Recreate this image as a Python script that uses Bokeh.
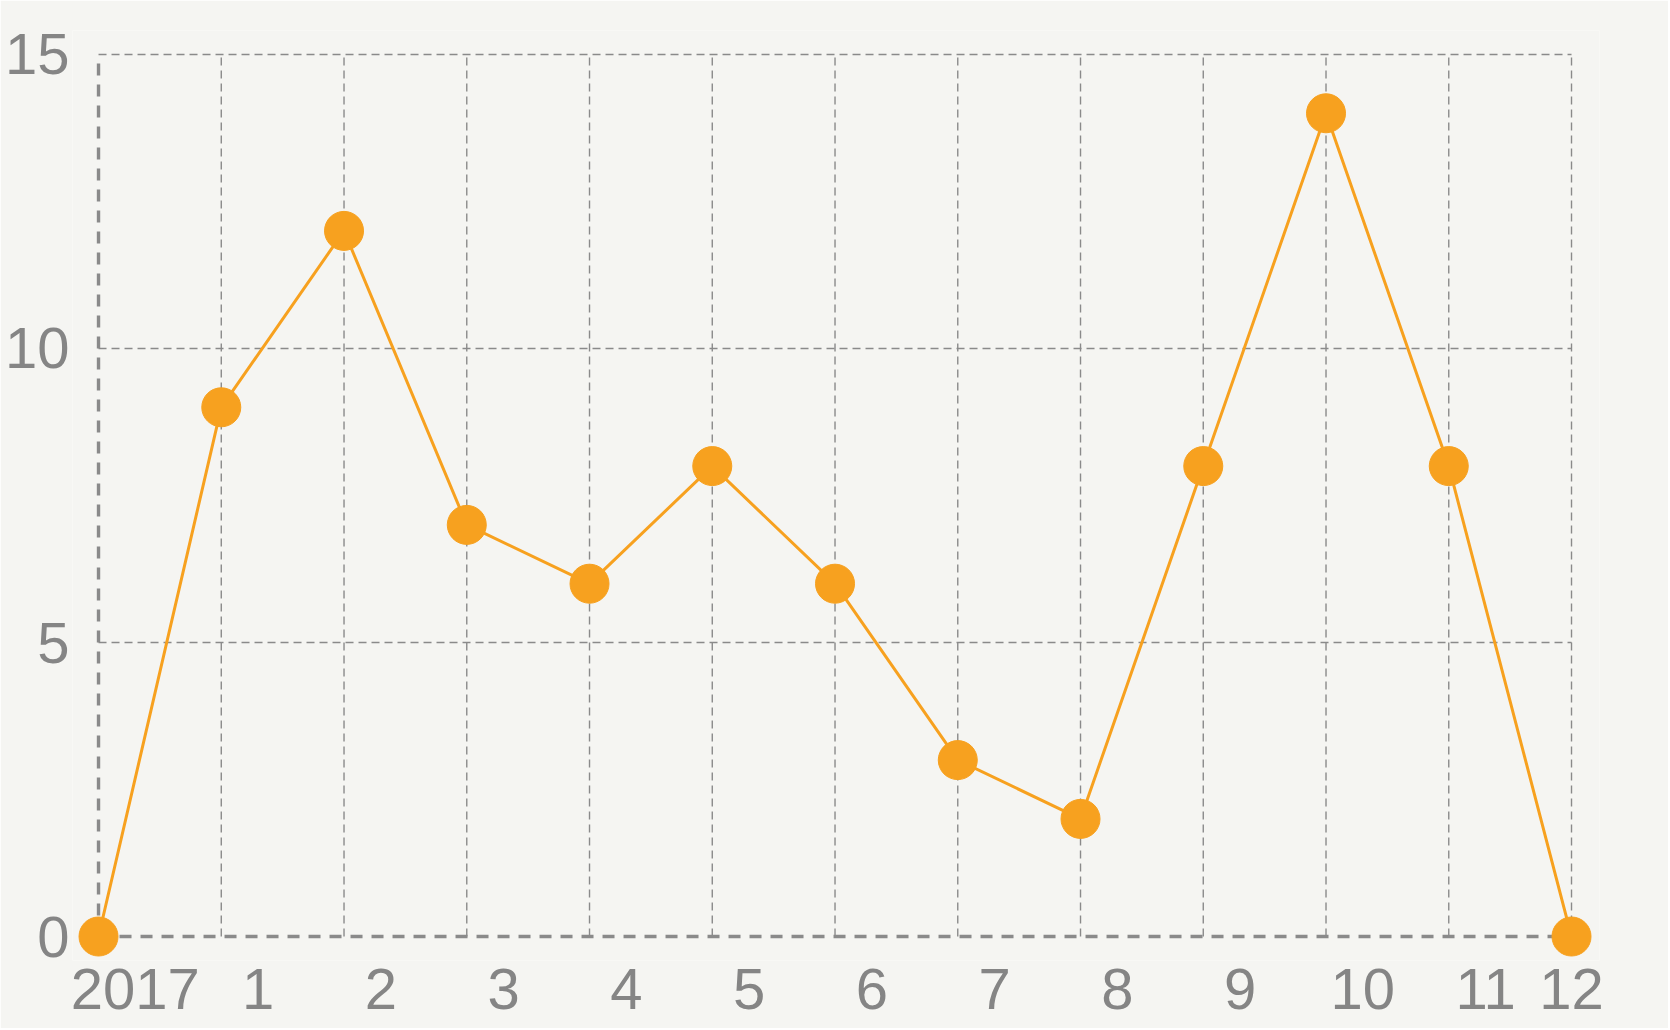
from bokeh.plotting import figure
from bokeh.models import FixedTicker, Range1d, ColumnDataSource
from bokeh.embed import file_html
from bokeh.resources import INLINE

# ---- data ----
months = [0, 1, 2, 3, 4, 5, 6, 7, 8, 9, 10, 11, 12]
values = [0, 9, 12, 7, 6, 8, 6, 3, 2, 8, 14, 8, 0]
x_labels = ["2017", "1", "2", "3", "4", "5", "6", "7", "8", "9", "10", "11", "12"]
y_ticks = [0, 5, 10, 15]

BG = "#f5f5f2"
GRID = "#8a8a8a"
TEXT = "#858585"
ORANGE = "#f7a11f"
FONT = "Liberation Sans"

p = figure(width=1668, height=1028, output_backend="svg", toolbar_location=None,
           x_range=Range1d(-0.212, 12.228), y_range=Range1d(-0.408, 15.408),
           min_border_left=72, min_border_right=69, min_border_top=30, min_border_bottom=68)
p.background_fill_color = BG
p.border_fill_color = BG
p.outline_line_color = None
p.xgrid.visible = False
p.ygrid.visible = False

x_max = months[-1]
y_max = y_ticks[-1]
gx = months[1:]
gy = y_ticks[1:]

# grid lines (axes drawn separately at 0)
p.segment(x0=gx, x1=gx, y0=[0] * len(gx), y1=[y_max] * len(gx),
          line_color=GRID, line_width=1.4, line_dash="8 5")
p.segment(x0=[0] * len(gy), x1=[x_max] * len(gy), y0=gy, y1=gy,
          line_color=GRID, line_width=1.4, line_dash="8 5")
# axis lines (thicker dashed)
p.segment(x0=[0], x1=[0], y0=[0], y1=[y_max], line_color=GRID, line_width=3.4, line_dash="12 9")
p.segment(x0=[0], x1=[x_max], y0=[0], y1=[0], line_color=GRID, line_width=3.4, line_dash="12 9")

src = ColumnDataSource(dict(x=months, y=values))
p.line("x", "y", source=src, line_color=ORANGE, line_width=3)
p.scatter("x", "y", source=src, size=39, fill_color=ORANGE, line_color=ORANGE)

# x axis labels, shifted right of the gridlines (last one at its gridline)
label_pos = [m + 0.3 for m in months[:-1]] + [months[-1]]
p.xaxis.ticker = FixedTicker(ticks=label_pos)
p.xaxis.major_label_overrides = {pos: lab for pos, lab in zip(label_pos, x_labels)}
p.yaxis.ticker = FixedTicker(ticks=y_ticks)

for ax in (p.xaxis, p.yaxis):
    ax.axis_line_color = None
    ax.major_tick_line_color = None
    ax.minor_tick_line_color = None
    ax.major_tick_out = 0
    ax.major_tick_in = 0
    ax.major_label_text_font = FONT
    ax.major_label_text_font_size = "58px"
    ax.major_label_text_color = TEXT
p.yaxis.major_label_standoff = 3
p.xaxis.major_label_standoff = 8

html = file_html(p, INLINE)
html = html.replace("<body>", '<body style="background-color:%s;">' % BG, 1)
open("out.html", "w").write(html)
